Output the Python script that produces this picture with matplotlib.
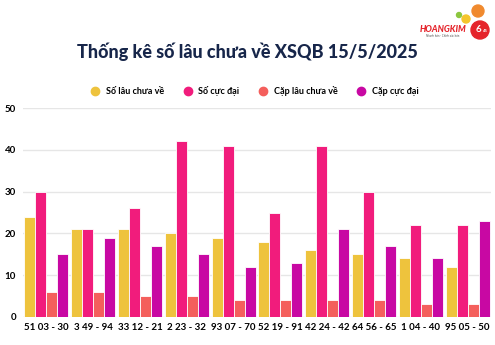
import matplotlib.pyplot as plt
import numpy as np
from matplotlib.patches import Circle

plt.rcParams['font.family'] = ['Lato', 'DejaVu Sans']

groups = ["51 03 - 30", "3 49 - 94", "33 12 - 21", "2 23 - 32", "93 07 - 70",
          "52 19 - 91", "42 24 - 42", "64 56 - 65", "1 04 - 40", "95 05 - 50"]
so_lau = [24, 21, 21, 20, 19, 18, 16, 15, 14, 12]
so_cuc_dai = [30, 21, 26, 42, 41, 25, 41, 30, 22, 22]
cap_lau = [6, 6, 5, 5, 4, 4, 4, 4, 3, 3]
cap_cuc_dai = [15, 19, 17, 15, 12, 13, 21, 17, 14, 23]

series = [
    ("Số lâu chưa về", so_lau, "#EEC33D"),
    ("Số cực đại", so_cuc_dai, "#F11C7C"),
    ("Cặp lâu chưa về", cap_lau, "#F45F5C"),
    ("Cặp cực đại", cap_cuc_dai, "#C808A3"),
]

W, H = 495, 345
fig = plt.figure(figsize=(W / 100, H / 100), dpi=100)
fig.patch.set_facecolor("white")

ax = fig.add_axes([23 / W, 28 / H, 468 / W, 209 / H])
x = np.arange(len(groups))
w = 0.234
for i, (name, vals, col) in enumerate(series):
    ax.bar(x + (i - 1.5) * w, vals, w, color=col, edgecolor="white",
           linewidth=0.6, label=name, zorder=3)

ax.set_xlim(-0.5, len(groups) - 0.5)
ax.set_ylim(0, 50)
ax.set_yticks(range(0, 51, 10))
ax.yaxis.grid(True, color="#E6E6E6", linewidth=1, zorder=0)
for s in ax.spines.values():
    s.set_visible(False)
ax.tick_params(length=0, labelsize=7, pad=4)
ax.tick_params(axis="y", pad=5)
ax.set_xticks(x)
ax.set_xticklabels(groups, fontweight="bold")
for t in ax.get_yticklabels():
    t.set_fontweight("bold")

# title and legend
fig.text(0.5, 1 - 52 / H, "Thống kê số lâu chưa về XSQB 15/5/2025",
         ha="center", va="center", fontsize=13, fontweight="black",
         color="#17264A")
handles = [plt.Line2D([], [], marker="o", linestyle="", markersize=6,
                      color=c) for _, _, c in series]
fig.legend(handles, [n for n, _, _ in series], loc="center",
           bbox_to_anchor=(0.51, 1 - 91 / H), ncol=4, frameon=False,
           prop={"size": 6.5, "weight": "bold"}, handletextpad=0.2,
           columnspacing=1.6)

# logo
fig.text(443 / W, 1 - 29 / H, "HOANGKIM", ha="center", va="center",
         fontsize=6.3, fontweight="black", style="italic", color="#E5242B")
fig.text(443 / W, 1 - 36 / H, "Nhanh hơn - Chính xác hơn", ha="center",
         va="center", fontsize=2, color="#555555")
logo = fig.add_axes([0, 0, 1, 1], zorder=-1)
logo.set_xlim(0, W)
logo.set_ylim(H, 0)
logo.axis("off")
logo.add_patch(Circle((480, 30), 9, color="#E5242B"))
logo.add_patch(Circle((478, 11), 6, color="#F08A2E"))
logo.add_patch(Circle((466, 19), 4, color="#F4C52C"))
logo.add_patch(Circle((459, 15), 2.5, color="#8CC63F"))
fig.text(478 / W, 1 - 30 / H, "6", ha="center", va="center", fontsize=7,
         fontweight="bold", color="white")
fig.text(485 / W, 1 - 31 / H, "45", ha="center", va="center", fontsize=3,
         fontweight="bold", color="white")

fig.savefig("out.png", dpi=100)
